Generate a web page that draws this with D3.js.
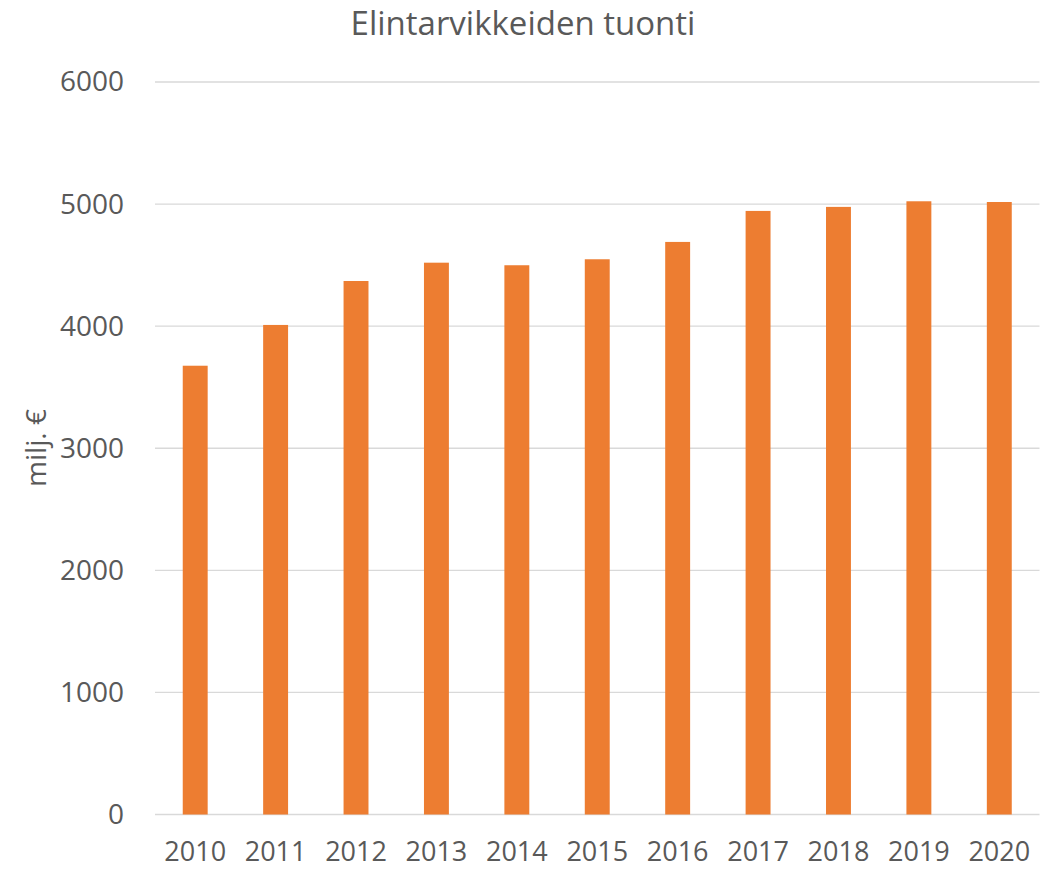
<!DOCTYPE html>
<meta charset="utf-8">
<html lang="fi">
<head>
<script src="https://d3js.org/d3.v7.min.js"></script>
<style>
  body { margin: 0; background: #fff; }
  text { font-family: "Open Sans", "Liberation Sans", sans-serif; fill: #595959; }
</style>
</head>
<body>
<script>
// data
var years = ['2010','2011','2012','2013','2014','2015','2016','2017','2018','2019','2020'];
var tuonti = [3676, 4010, 4370, 4520, 4499, 4548, 4690, 4944, 4977, 5023, 5017];
var yTicks = [0, 1000, 2000, 3000, 4000, 5000, 6000];

var W = 1053, H = 869;
var plotLeft = 155, plotRight = 1039.5, plotTop = 82, plotBottom = 814.5;

var svg = d3.select('body').append('svg')
    .attr('width', W)
    .attr('height', H);

var x = d3.scaleBand().domain(years).range([plotLeft, plotRight]).paddingInner(0.69).paddingOuter(0.345);
var y = d3.scaleLinear().domain([0, 6000]).range([plotBottom, plotTop]);

// gridlines
svg.append('g').selectAll('line')
    .data(yTicks)
    .enter().append('line')
    .attr('x1', plotLeft).attr('x2', plotRight)
    .attr('y1', function(d){ return y(d); })
    .attr('y2', function(d){ return y(d); })
    .attr('stroke', '#d9d9d9')
    .attr('stroke-width', 1.3);

// bars
svg.append('g').selectAll('rect')
    .data(tuonti)
    .enter().append('rect')
    .attr('x', function(d, i){ return x(years[i]); })
    .attr('width', x.bandwidth())
    .attr('y', function(d){ return y(d); })
    .attr('height', function(d){ return y(0) - y(d); })
    .attr('fill', '#ED7D31');

// y axis labels
var yAxis = d3.axisLeft(y).tickValues(yTicks).tickFormat(d3.format('d')).tickSize(0).tickPadding(31);
var gy = svg.append('g').attr('transform', 'translate(' + plotLeft + ',0)').call(yAxis);
gy.select('.domain').remove();
gy.selectAll('text').style('font-size', '28px').attr('fill', '#595959');

// x axis labels
var xAxis = d3.axisBottom(x).tickSize(0).tickPadding(27);
var gx = svg.append('g').attr('transform', 'translate(0,' + plotBottom + ')').call(xAxis);
gx.select('.domain').remove();
gx.selectAll('text').style('font-size', '27px').attr('fill', '#595959');

// title
svg.append('text')
    .attr('x', 523)
    .attr('y', 35)
    .style('text-anchor', 'middle')
    .style('font-size', '33px')
    .text('Elintarvikkeiden tuonti');

// y axis title
svg.append('text')
    .attr('transform', 'translate(46,448) rotate(-90)')
    .style('text-anchor', 'middle')
    .style('font-size', '28px')
    .text('milj. €');
</script>
</body>
</html>
